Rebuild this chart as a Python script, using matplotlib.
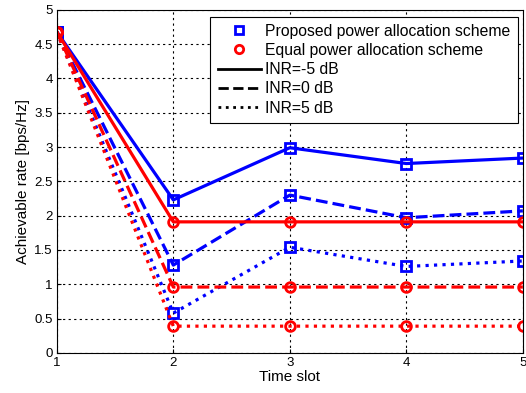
import numpy as np
import matplotlib.pyplot as plt
from matplotlib.lines import Line2D

plt.rcParams['font.family'] = ['Liberation Sans', 'DejaVu Sans']

# Données
time_slot = [1, 2, 3, 4, 5]
prop_m5 = [4.68, 2.23, 2.99, 2.76, 2.84]
prop_0 = [4.68, 1.28, 2.30, 1.97, 2.07]
prop_5 = [4.68, 0.58, 1.54, 1.26, 1.34]
equal_m5 = [4.68, 1.91, 1.91, 1.91, 1.91]
equal_0 = [4.68, 0.96, 0.96, 0.96, 0.96]
equal_5 = [4.68, 0.39, 0.39, 0.39, 0.39]

fig = plt.figure(figsize=(5.26, 3.93), dpi=100)
ax = fig.add_axes([0.108, 0.102, 0.886, 0.873])

styles = ['-', '--', ':']
mk = dict(markersize=7, markerfacecolor='none', markeredgewidth=2, linewidth=2.3)
for y, ls in zip([prop_m5, prop_0, prop_5], styles):
    ax.plot(time_slot, y, color='b', linestyle=ls, marker='s', **mk)
for y, ls in zip([equal_m5, equal_0, equal_5], styles):
    ax.plot(time_slot, y, color='r', linestyle=ls, marker='o', **mk)

ax.set_xlim(1, 5)
ax.set_ylim(0, 5)
ax.set_xticks(time_slot)
ax.set_yticks(np.arange(0, 5.01, 0.5))
ax.set_yticklabels(['0', '0.5', '1', '1.5', '2', '2.5', '3', '3.5', '4', '4.5', '5'])
ax.grid(True, color='k', linestyle=(0, (2, 3)), linewidth=0.8)
ax.tick_params(labelsize=9.5, direction='in', length=3, pad=3)
ax.set_xlabel("Time slot", fontsize=11, labelpad=1)
ax.set_ylabel("Achievable rate [bps/Hz]", fontsize=11, labelpad=3)

handles = [
    Line2D([], [], color='b', marker='s', linestyle='none', markersize=6, markerfacecolor='none', markeredgewidth=2),
    Line2D([], [], color='r', marker='o', linestyle='none', markersize=6, markerfacecolor='none', markeredgewidth=2),
    Line2D([], [], color='k', linestyle='-', linewidth=2),
    Line2D([], [], color='k', linestyle='--', linewidth=2),
    Line2D([], [], color='k', linestyle=':', linewidth=2),
]
labels = ["Proposed power allocation scheme", "Equal power allocation scheme",
          "INR=-5 dB", "INR=0 dB", "INR=5 dB"]
leg = ax.legend(handles, labels, loc='upper right', bbox_to_anchor=(0.989, 0.98),
                fontsize=11.3, fancybox=False, framealpha=1, edgecolor='k',
                handlelength=2.75, handletextpad=0.3, labelspacing=0.27,
                borderpad=0.45, borderaxespad=0)
leg.get_frame().set_linewidth(0.8)

plt.savefig('out.png', dpi=100)
